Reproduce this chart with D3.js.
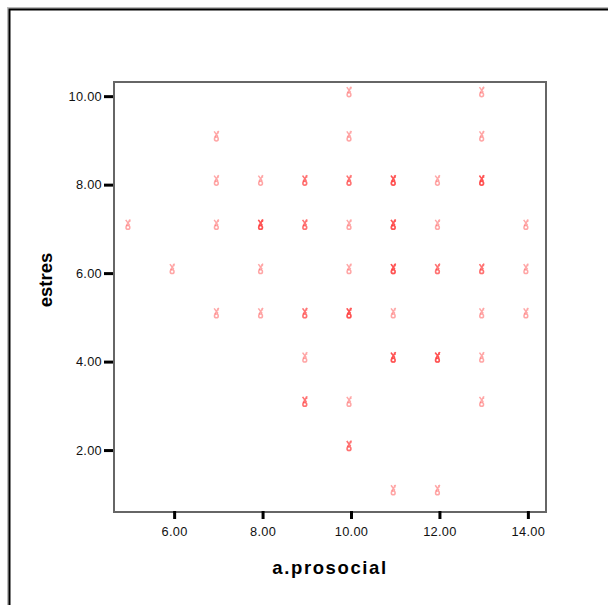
<!DOCTYPE html>
<html>
<head>
<meta charset="utf-8">
<script src="https://cdn.jsdelivr.net/npm/d3@7"></script>
<style>
  html, body { margin: 0; padding: 0; background: #fff; }
  svg { display: block; }
</style>
</head>
<body>
<svg id="chart" width="608" height="605"></svg>
<script>
// Observations (repeated pairs are genuine duplicates, drawn on top of each other)
const prosocial = [
  10, 13,
  7, 10, 13,
  7, 8, 9, 9, 10, 10, 11, 11, 11, 12, 13, 13, 13,
  5, 7, 8, 8, 8, 9, 9, 10, 11, 11, 11, 12, 14,
  6, 8, 10, 11, 11, 11, 12, 12, 13, 13, 14,
  7, 8, 9, 9, 10, 10, 10, 11, 13, 14,
  9, 11, 11, 11, 12, 12, 12, 13,
  9, 9, 10, 13,
  10, 10,
  11, 12
];
const estres = [
  10, 10,
  9, 9, 9,
  8, 8, 8, 8, 8, 8, 8, 8, 8, 8, 8, 8, 8,
  7, 7, 7, 7, 7, 7, 7, 7, 7, 7, 7, 7, 7,
  6, 6, 6, 6, 6, 6, 6, 6, 6, 6, 6,
  5, 5, 5, 5, 5, 5, 5, 5, 5, 5,
  4, 4, 4, 4, 4, 4, 4, 4,
  3, 3, 3, 3,
  2, 2,
  1, 1
];
const xTicks = [6, 8, 10, 12, 14];
const yTicks = [2, 4, 6, 8, 10];
const xTitle = "a.prosocial";
const yTitle = "estres";

const svg = d3.select("#chart");
const plot = { left: 114, right: 546, top: 82, bottom: 512 };

// Outer frame of the output panel
svg.append("rect")
  .attr("x", 8.5).attr("y", 8.5)
  .attr("width", 640).attr("height", 640)
  .attr("fill", "#fff")
  .attr("stroke", "#bbb").attr("stroke-width", 3);
svg.append("rect")
  .attr("x", 9.5).attr("y", 9.5)
  .attr("width", 640).attr("height", 640)
  .attr("fill", "none")
  .attr("stroke", "#000").attr("stroke-width", 2);

const x = d3.scaleLinear().domain([4.64, 14.41]).range([plot.left, plot.right]);
const y = d3.scaleLinear().domain([0.6, 10.32]).range([plot.bottom, plot.top]);

// Plot area border
svg.append("rect")
  .attr("x", plot.left).attr("y", plot.top)
  .attr("width", plot.right - plot.left).attr("height", plot.bottom - plot.top)
  .attr("fill", "#fff")
  .attr("stroke", "#666").attr("stroke-width", 2);

// Y axis
const yAxis = svg.append("g")
  .attr("transform", `translate(${plot.left - 1},0)`)
  .call(d3.axisLeft(y).tickValues(yTicks).tickFormat(d3.format(".2f"))
    .tickSize(9).tickPadding(2));
yAxis.select(".domain").remove();
yAxis.selectAll(".tick line").attr("stroke", "#000").attr("stroke-width", 3);
yAxis.selectAll(".tick text")
  .attr("font-family", "Liberation Sans, Arial, sans-serif")
  .attr("font-size", 12.8).attr("fill", "#111")
  .attr("letter-spacing", 0.3);

// X axis
const xAxis = svg.append("g")
  .attr("transform", `translate(0,${plot.bottom - 1})`)
  .call(d3.axisBottom(x).tickValues(xTicks).tickFormat(d3.format(".2f"))
    .tickSize(8).tickPadding(8));
xAxis.select(".domain").remove();
xAxis.selectAll(".tick line").attr("stroke", "#000").attr("stroke-width", 3);
xAxis.selectAll(".tick text")
  .attr("font-family", "Liberation Sans, Arial, sans-serif")
  .attr("font-size", 12.8).attr("fill", "#111")
  .attr("letter-spacing", 0.3);

// Axis titles
svg.append("text")
  .attr("x", (plot.left + plot.right) / 2).attr("y", 574)
  .attr("text-anchor", "middle")
  .attr("font-family", "Liberation Sans, Arial, sans-serif")
  .attr("font-weight", "bold").attr("font-size", 18.5)
  .attr("letter-spacing", 1.6)
  .text(xTitle);
svg.append("text")
  .attr("transform", "translate(52,280) rotate(-90)")
  .attr("text-anchor", "middle")
  .attr("font-family", "Liberation Sans, Arial, sans-serif")
  .attr("font-weight", "bold").attr("font-size", 18.5)
  .text(yTitle);

// Point markers: a small crossed glyph over a ring, semi-transparent so that
// coinciding observations build up a deeper red
const points = prosocial.map((p, i) => ({ p, e: estres[i] }));
const marks = svg.append("g").selectAll("g.pt")
  .data(points)
  .join("g")
  .attr("class", "pt")
  .attr("transform", d => `translate(${x(d.p) - 2},${y(d.e) - 4})`)
  .attr("fill", "none")
  .attr("stroke", "#ff2a2a")
  .attr("stroke-width", 1.5)
  .attr("stroke-opacity", 0.42);
marks.append("path").attr("d", "M-2.2,-5 L1.6,0.2 M2.4,-5.4 L-1.6,0.8 M1.2,-5.2 L2,-2.8");
marks.append("circle").attr("cx", 0).attr("cy", 2.6).attr("r", 1.9);
</script>
</body>
</html>
